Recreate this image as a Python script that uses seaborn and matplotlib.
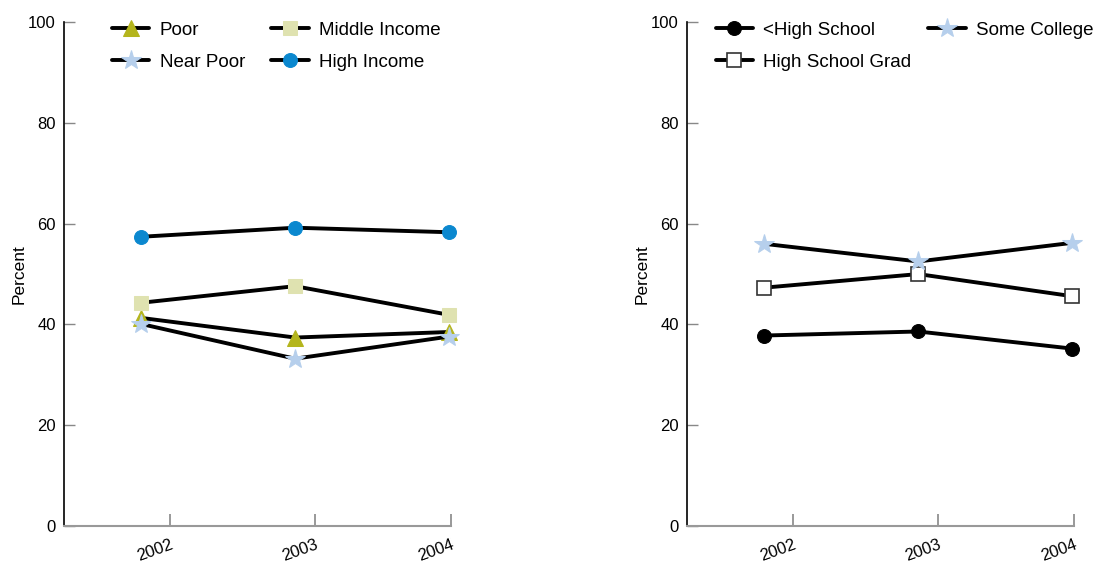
import matplotlib
matplotlib.use("Agg")
import matplotlib.pyplot as plt
import seaborn as sns
import pandas as pd

# data
years = [2002, 2003, 2004]
year_labels = ["2002", "2003", "2004"]

poor = [41.3, 37.4, 38.5]
near_poor = [40.1, 33.2, 37.6]
middle_income = [44.3, 47.6, 41.9]
high_income = [57.4, 59.2, 58.3]

less_hs = [37.8, 38.6, 35.2]
hs_grad = [47.3, 50.0, 45.6]
some_college = [56.0, 52.5, 56.2]

sns.set_style("white")
plt.rcParams["font.family"] = ["Liberation Sans", "DejaVu Sans"]
plt.rcParams["text.color"] = "black"
plt.rcParams["xtick.color"] = "black"
plt.rcParams["ytick.color"] = "black"
plt.rcParams["axes.labelcolor"] = "black"

fig = plt.figure(figsize=(11.03, 5.68), dpi=100)
ax1 = fig.add_axes([0.058, 0.074, 0.351, 0.887])
ax2 = fig.add_axes([0.623, 0.074, 0.351, 0.887])

# x ticks sit a bit right of the points in the original
tick_shift = [0.19, 0.13, 0.01]

left_series = [
    ("Poor", poor, dict(marker="^", markersize=11, markerfacecolor="#b4b51c", markeredgecolor="#b4b51c")),
    ("Near Poor", near_poor, dict(marker="*", markersize=15, markerfacecolor="#b6cfec", markeredgecolor="#b6cfec")),
    ("Middle Income", middle_income, dict(marker="s", markersize=10, markerfacecolor="#dfe2b0", markeredgecolor="#dfe2b0")),
    ("High Income", high_income, dict(marker="o", markersize=10, markerfacecolor="#0b88cf", markeredgecolor="#0b88cf")),
]
right_series = [
    ("<High School", less_hs, dict(marker="o", markersize=10, markerfacecolor="black", markeredgecolor="black")),
    ("High School Grad", hs_grad, dict(marker="s", markersize=10, markerfacecolor="white", markeredgecolor="#333333", markeredgewidth=1.2)),
    ("Some College", some_college, dict(marker="*", markersize=15, markerfacecolor="#b6cfec", markeredgecolor="#b6cfec")),
]


def draw(ax, series, legend_order, legend_x, colspace):
    handles = {}
    for name, vals, style in series:
        df = pd.DataFrame({"year": years, "value": vals})
        sns.lineplot(data=df, x="year", y="value", ax=ax, color="black",
                     linewidth=2.8, label=name, clip_on=False, **style)
    h, l = ax.get_legend_handles_labels()
    for hh, ll in zip(h, l):
        handles[ll] = hh
    ax.legend([handles[n] for n in legend_order], legend_order, ncol=2,
              frameon=False, loc="upper left", bbox_to_anchor=(legend_x, 1.035),
              fontsize=13.5, handlelength=2.0, columnspacing=colspace,
              labelspacing=0.8, handletextpad=0.55)

    ax.set_ylim(0, 100)
    ax.set_xlim(2001.5, 2004.013)
    ax.set_yticks([0, 20, 40, 60, 80, 100])
    ax.set_xticks([y + s for y, s in zip(years, tick_shift)])
    ax.set_xticklabels(year_labels, rotation=20, ha="right", rotation_mode="anchor")
    ax.set_xlabel("")
    ax.set_ylabel("Percent", fontsize=12.5, labelpad=1)
    ax.tick_params(axis="y", left=True, direction="in", length=8, width=1,
                   color="#888888", labelcolor="black", labelsize=12, pad=6)
    ax.tick_params(axis="x", bottom=True, direction="in", length=9, width=1.2,
                   color="#888888", labelcolor="black", labelsize=12, pad=8)
    sns.despine(ax=ax)
    ax.spines["left"].set_color("black")
    ax.spines["left"].set_linewidth(1.2)
    ax.spines["bottom"].set_color("#999999")
    ax.spines["bottom"].set_linewidth(1.5)


draw(ax1, left_series, ["Poor", "Near Poor", "Middle Income", "High Income"], 0.08, 1.4)
draw(ax2, right_series, ["<High School", "High School Grad", "Some College"], 0.03, 0.9)

fig.savefig("out.png", dpi=100)
